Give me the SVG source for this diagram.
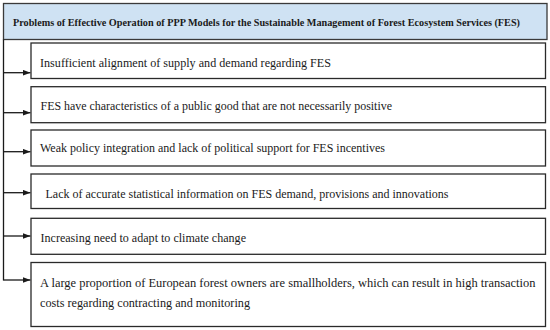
<svg xmlns="http://www.w3.org/2000/svg" width="550" height="330" viewBox="0 0 550 330">
<defs>
<marker id="ah" markerWidth="8" markerHeight="6" refX="8" refY="3" orient="auto" markerUnits="userSpaceOnUse">
<path d="M0,0 L8,3 L0,6 Z" fill="#1a1a1a"/>
</marker>
<style>
.box{fill:#ffffff;stroke:#2a2a2a;stroke-width:1.3}
.hdr{fill:#cfe2f3;stroke:#3a3a3a;stroke-width:1.3}
.t{font-family:"Liberation Serif",serif;font-size:12px;fill:#1a1a1a}
.h{font-family:"Liberation Serif",serif;font-size:10.5px;font-weight:bold;fill:#1a1a1a}
.c{stroke:#1a1a1a;stroke-width:1.3;fill:none}
</style>
</defs>
<rect width="550" height="330" fill="#ffffff"/>
<g id="header">
<rect class="hdr" x="3.5" y="3.5" width="543.5" height="36"/>
<text class="h" x="13" y="25.5" textLength="507" lengthAdjust="spacingAndGlyphs">Problems of Effective Operation of PPP Models for the Sustainable Management of Forest Ecosystem Services (FES)</text>
</g>
<g id="connectors">
<path class="c" d="M3.5,39.5 V280.5"/>
<path class="c" d="M3.5,72.7 H30.5" marker-end="url(#ah)"/>
<path class="c" d="M3.5,112.7 H30.5" marker-end="url(#ah)"/>
<path class="c" d="M3.5,151.7 H30.5" marker-end="url(#ah)"/>
<path class="c" d="M3.5,192.7 H30.5" marker-end="url(#ah)"/>
<path class="c" d="M3.5,236 H30.5" marker-end="url(#ah)"/>
<path class="c" d="M3.5,280 H30.5" marker-end="url(#ah)"/>
</g>
<g id="p1">
<rect class="box" x="31" y="43" width="514.5" height="35.5"/>
<text class="t" x="40" y="66.5" textLength="291" lengthAdjust="spacingAndGlyphs">Insufficient alignment of supply and demand regarding FES</text>
</g>
<g id="p2">
<rect class="box" x="31" y="86.7" width="514.5" height="36"/>
<text class="t" x="40.5" y="110" textLength="351.5" lengthAdjust="spacingAndGlyphs">FES have characteristics of a public good that are not necessarily positive</text>
</g>
<g id="p3">
<rect class="box" x="31" y="130" width="514.5" height="36"/>
<text class="t" x="40" y="152" textLength="345" lengthAdjust="spacingAndGlyphs">Weak policy integration and lack of political support for FES incentives</text>
</g>
<g id="p4">
<rect class="box" x="31" y="174" width="514.5" height="34.5"/>
<text class="t" x="45.5" y="198" textLength="403" lengthAdjust="spacingAndGlyphs">Lack of accurate statistical information on FES demand, provisions and innovations</text>
</g>
<g id="p5">
<rect class="box" x="31" y="218.3" width="514.5" height="36"/>
<text class="t" x="40.5" y="242" textLength="205.5" lengthAdjust="spacingAndGlyphs">Increasing need to adapt to climate change</text>
</g>
<g id="p6">
<rect class="box" x="31" y="262.5" width="514.5" height="64"/>
<text class="t" x="40" y="287" textLength="495.5" lengthAdjust="spacingAndGlyphs">A large proportion of European forest owners are smallholders, which can result in high transaction</text>
<text class="t" x="40" y="306.7" textLength="210" lengthAdjust="spacingAndGlyphs">costs regarding contracting and monitoring</text>
</g>
</svg>
